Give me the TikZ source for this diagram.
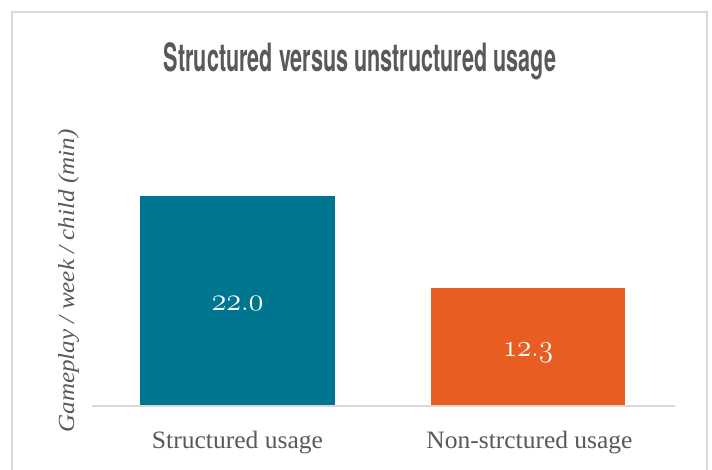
\documentclass[tikz,border=0pt]{standalone}
\usepackage{graphicx}
\usepackage{fontspec}
\newfontfamily\titlefont{TeX Gyre Heros}
\newfontfamily\serif{Liberation Serif}
\newcommand{\osn}[1]{{\usefont{OML}{cmm}{m}{it}#1}}
\definecolor{teal}{RGB}{0,117,143}
\definecolor{orng}{RGB}{232,94,34}
\definecolor{frame}{RGB}{217,217,217}
\definecolor{txt}{RGB}{89,89,89}
\tikzset{
  bar/.style={draw=none,inner sep=0pt},
  val/.style={text=white,font=\fontsize{24.88}{26}\selectfont,inner sep=0pt,anchor=base},
  cat/.style={text=txt,font=\serif\fontsize{25}{28}\selectfont,inner sep=0pt,anchor=base},
}
\begin{document}
\begin{tikzpicture}[x=1pt,y=-1pt]
\useasboundingbox (0,0) rectangle (712,469);
\fill[white] (0,0) rectangle (712,469);
\draw[frame,line width=2pt] (12,480) -- (12,12) -- (707,12) -- (707,480);
% title
\node[inner sep=0pt,anchor=base,text=txt,font=\titlefont\bfseries\fontsize{39}{40}\selectfont] (title) at (360,71)
  {\resizebox{392pt}{\height}{Structured versus unstructured usage}};
% y-axis label
\node[inner sep=0pt,anchor=base,rotate=90,text=txt,font=\serif\itshape\fontsize{23}{24}\selectfont] (ylab) at (74,281)
  {\resizebox{303pt}{\height}{Gameplay / week / child (min)}};
% bars
\fill[teal] (140,196) rectangle (335,405.5) coordinate (b1);
\fill[orng] (431,288) rectangle (625,405.5) coordinate (b2);
\node[val] (v1) at (237.5,310.5) {\resizebox{52pt}{14pt}{\osn{22}.\osn{0}}};
\node[val] (v2) at (528,356) {\resizebox{50pt}{13.5pt}{\osn{12}.\osn{3}}};
% axis
\coordinate (axL) at (92,406);
\coordinate (axR) at (675,406);
\draw[frame,line width=2pt] (axL) -- (axR);
% category labels
\node[cat] (c1) at (237.5,448.5) {\resizebox{171pt}{\height}{Structured usage}};
\node[cat] (c2) at (529.5,448.5) {\resizebox{206pt}{\height}{Non-strctured usage}};
\end{tikzpicture}
\end{document}
